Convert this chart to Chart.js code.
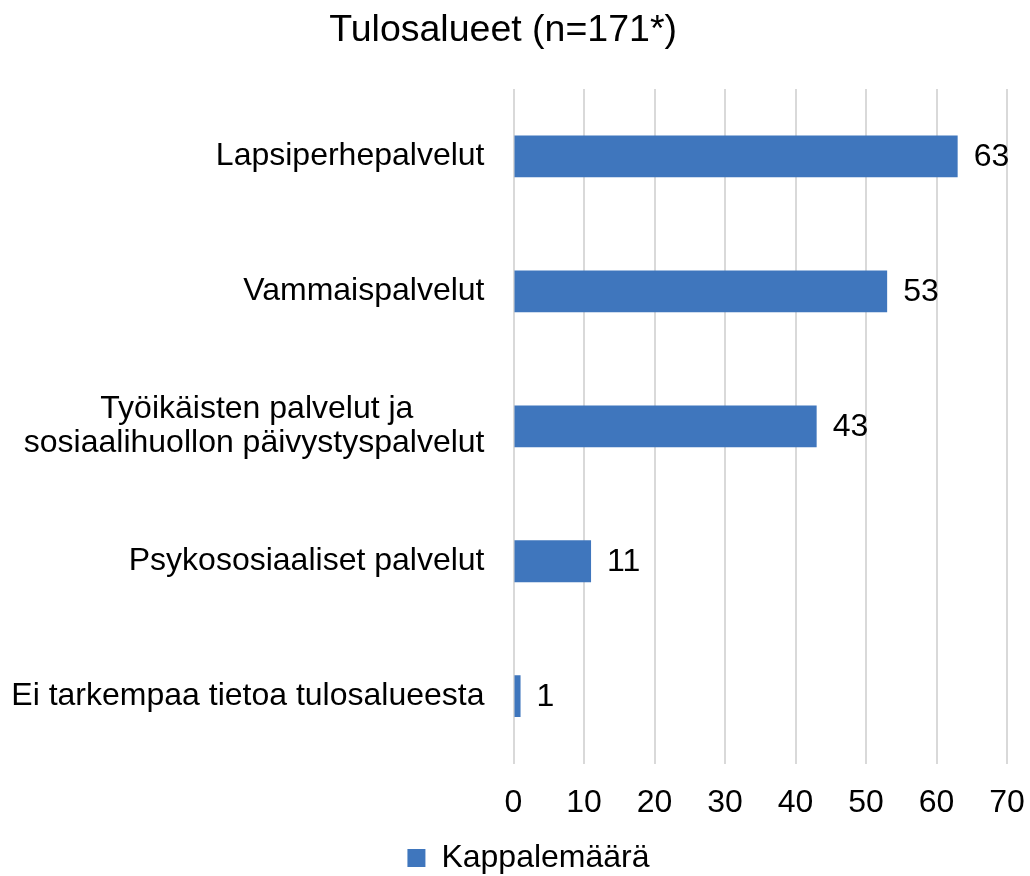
<!DOCTYPE html>
<html>
<head>
<meta charset="utf-8">
<script src="https://cdn.jsdelivr.net/npm/chart.js@4"></script>
<style>
  html, body { margin: 0; padding: 0; background: #fff; }
  #wrap { width: 1030px; height: 876px; }
</style>
</head>
<body>
<div id="wrap"><canvas id="tulos-chart"></canvas></div>
<script>
const categories = [
  'Lapsiperhepalvelut',
  'Vammaispalvelut',
  ['Työikäisten palvelut ja', 'sosiaalihuollon päivystyspalvelut'],
  'Psykososiaaliset palvelut',
  'Ei tarkempaa tietoa tulosalueesta'
];
const counts = [63, 53, 43, 11, 1];
const xTicks = [0, 10, 20, 30, 40, 50, 60, 70];
const seriesName = 'Kappalemäärä';
const chartTitle = 'Tulosalueet (n=171*)';

const FONT = 'Liberation Sans, Arial, sans-serif';
const blue = 'rgb(63, 118, 189)';

// measure text so multi-line labels can be centred on each other
const measureCtx = document.createElement('canvas').getContext('2d');
measureCtx.font = '32px ' + FONT;
const centerLines = (lines) => {
  const widths = lines.map(l => measureCtx.measureText(l).width);
  const maxW = Math.max(...widths);
  const sp = measureCtx.measureText(' ').width;
  return lines.map((l, i) => l + ' '.repeat(Math.round((maxW - widths[i]) / 2 / sp)));
};

const barValueLabels = {
  id: 'barValueLabels',
  afterInit(chart) {
    // legend box a bit tighter than the default
    const fit = chart.legend.fit;
    chart.legend.fit = function () {
      fit.call(this);
      if (this.height) this.height -= 8;
    };
  },
  afterLayout(chart) {
    // legend sits slightly right of the canvas centre
    chart.legend.left += 15;
    chart.legend.right += 15;
  },
  afterDatasetsDraw(chart) {
    const ctx = chart.ctx;
    ctx.save();
    ctx.font = '32px ' + FONT;
    ctx.fillStyle = '#000';
    ctx.textAlign = 'left';
    ctx.textBaseline = 'middle';
    chart.getDatasetMeta(0).data.forEach((bar, i) => {
      ctx.fillText(String(chart.data.datasets[0].data[i]), bar.x + 16, bar.y + 1);
    });
    ctx.restore();
  }
};

const config = {
  type: 'bar',
  data: {
    labels: categories,
    datasets: [{
      label: seriesName,
      data: counts,
      backgroundColor: blue,
      borderWidth: 0,
      barPercentage: 0.31,
      categoryPercentage: 1,
    }]
  },
  options: {
    indexAxis: 'y',
    responsive: true,
    maintainAspectRatio: false,
    animation: false,
    layout: {
      padding: { left: 6, right: 9, top: 0, bottom: 0 }
    },
    scales: {
      x: {
        min: 0,
        max: 70,
        afterBuildTicks: (axis) => { axis.ticks = xTicks.map(v => ({ value: v })); },
        afterFit: (axis) => { axis.paddingRight = 23; },
        grid: { color: '#d9d9d9', lineWidth: 2, drawTicks: false },
        border: { display: false },
        ticks: { color: '#000', font: { family: FONT, size: 32 }, padding: 20 }
      },
      y: {
        grid: { display: false, drawTicks: false },
        border: { display: false },
        ticks: {
          color: '#000',
          font: { family: FONT, size: 32, lineHeight: 1.05 },
          padding: 29,
          callback: function (value) {
            const l = this.getLabelForValue(value);
            return Array.isArray(l) ? centerLines(l) : l;
          }
        }
      }
    },
    plugins: {
      title: {
        display: true,
        // trailing spaces nudge the centred title a little to the left
        text: chartTitle + '  ',
        color: '#000',
        font: { family: FONT, size: 37.5, weight: 'normal' },
        padding: { top: 8, bottom: 36 }
      },
      legend: {
        display: true,
        position: 'bottom',
        labels: {
          color: '#000',
          font: { family: FONT, size: 32 },
          boxWidth: 18,
          boxHeight: 18,
          padding: 0
        }
      },
      tooltip: { enabled: false }
    }
  },
  plugins: [barValueLabels]
};

const myChart = new Chart(document.getElementById('tulos-chart'), config);
</script>
</body>
</html>
